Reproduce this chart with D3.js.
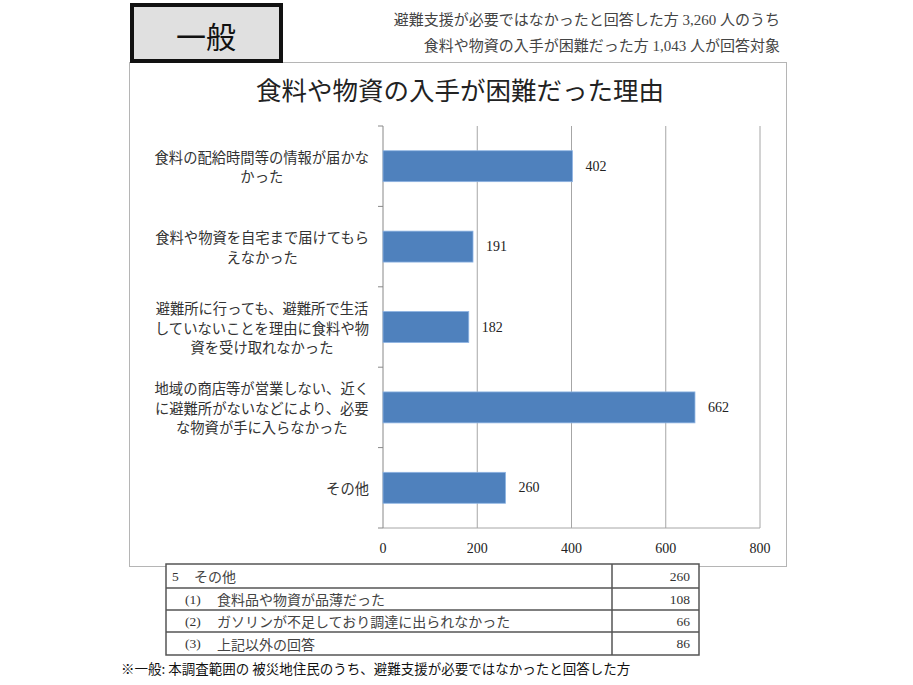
<!DOCTYPE html>
<html>
<head>
<meta charset="utf-8">
<script src="https://cdn.jsdelivr.net/npm/d3@7"></script>
<style>
  body { margin: 0; background: #fff; }
  svg { display: block; }
</style>
</head>
<body>
<div id="chart"></div>
<script>
// 食料や物資の入手が困難だった理由 (一般)
const categories = [
  ["食料の配給時間等の情報が届かな", "かった"],
  ["食料や物資を自宅まで届けてもら", "えなかった"],
  ["避難所に行っても、避難所で生活", "していないことを理由に食料や物", "資を受け取れなかった"],
  ["地域の商店等が営業しない、近く", "に避難所がないなどにより、必要", "な物資が手に入らなかった"],
  ["その他"]
];
const values = [402, 191, 182, 662, 260];
const xTicks = [0, 200, 400, 600, 800];

const tableNums = ["5", "(1)", "(2)", "(3)"];
const tableLabels = ["その他", "食料品や物資が品薄だった", "ガソリンが不足しており調達に出られなかった", "上記以外の回答"];
const tableValues = [260, 108, 66, 86];

const headerLines = [
  "避難支援が必要ではなかったと回答した方 3,260 人のうち",
  "食料や物資の入手が困難だった方 1,043 人が回答対象"
];
const title = "食料や物資の入手が困難だった理由";
const footnote = "※一般:  本調査範囲の 被災地住民のうち、避難支援が必要ではなかったと回答した方";

const width = 913, height = 685;
const jp = "'Noto Sans CJK JP', sans-serif";
const serif = "'Liberation Serif', 'Noto Sans CJK JP', serif";

const svg = d3.select("#chart").append("svg")
  .attr("width", width)
  .attr("height", height);

// chart frame
svg.append("rect")
  .attr("x", 129.5).attr("y", 62.5)
  .attr("width", 657).attr("height", 504)
  .attr("fill", "#fff").attr("stroke", "#b5b5b5").attr("stroke-width", 1);

// label box "一般"
svg.append("rect")
  .attr("x", 132).attr("y", 5)
  .attr("width", 149).attr("height", 56)
  .attr("fill", "#e0e0e0").attr("stroke", "#111").attr("stroke-width", 4);
svg.append("text")
  .attr("x", 206).attr("y", 35)
  .attr("text-anchor", "middle").attr("dominant-baseline", "central")
  .attr("font-family", jp).attr("font-size", 30).attr("fill", "#111")
  .text("一般");

// header notes
svg.selectAll(".hdr").data(headerLines).enter().append("text")
  .attr("class", "hdr")
  .attr("x", 780).attr("y", (d, i) => 20 + i * 26)
  .attr("text-anchor", "end").attr("dominant-baseline", "central")
  .attr("font-family", serif).attr("font-size", 15).attr("fill", "#444")
  .text(d => d);

// title
svg.append("text")
  .attr("x", 460).attr("y", 88)
  .attr("text-anchor", "middle").attr("dominant-baseline", "central")
  .attr("font-family", jp).attr("font-size", 25.5).attr("fill", "#222")
  .text(title);

// scales
const x = d3.scaleLinear().domain([0, 800]).range([383, 760]);
const y = d3.scaleBand().domain(d3.range(categories.length))
  .range([126, 528]).paddingInner(0.615).paddingOuter(0.3075);

// gridlines
svg.selectAll(".grid").data(xTicks.slice(1)).enter().append("line")
  .attr("class", "grid")
  .attr("x1", d => x(d)).attr("x2", d => x(d))
  .attr("y1", 126).attr("y2", 528)
  .attr("stroke", "#a6a6a6").attr("stroke-width", 1);

// bottom line
svg.append("line")
  .attr("x1", x(0)).attr("x2", x(800)).attr("y1", 528).attr("y2", 528)
  .attr("stroke", "#a6a6a6");

// y axis with boundary ticks
const step = y.step();
const edges = d3.range(categories.length + 1).map(i => 126 + i * step);
svg.append("line")
  .attr("x1", x(0)).attr("x2", x(0)).attr("y1", 126).attr("y2", 528)
  .attr("stroke", "#888");
svg.selectAll(".ytick").data(edges).enter().append("line")
  .attr("class", "ytick")
  .attr("x1", x(0) - 5).attr("x2", x(0)).attr("y1", d => d).attr("y2", d => d)
  .attr("stroke", "#888");

// bars
svg.selectAll(".bar").data(values).enter().append("rect")
  .attr("class", "bar")
  .attr("x", x(0))
  .attr("y", (d, i) => y(i))
  .attr("width", d => x(d) - x(0))
  .attr("height", y.bandwidth())
  .attr("fill", "#4f81bd").attr("stroke", "#8eb4e3").attr("stroke-width", 0.8);

// value labels
svg.selectAll(".val").data(values).enter().append("text")
  .attr("class", "val")
  .attr("x", d => x(d) + 13)
  .attr("y", (d, i) => y(i) + y.bandwidth() / 2)
  .attr("dominant-baseline", "central")
  .attr("font-family", serif).attr("font-size", 14).attr("fill", "#222")
  .text(d => d);

// x tick labels
svg.selectAll(".xtick").data(xTicks).enter().append("text")
  .attr("class", "xtick")
  .attr("x", d => x(d)).attr("y", 548)
  .attr("text-anchor", "middle").attr("dominant-baseline", "central")
  .attr("font-family", serif).attr("font-size", 14).attr("fill", "#222")
  .text(d => d);

// category labels: lines centred in a block, block right-aligned
const lineH = 19.5;
categories.forEach((lines, i) => {
  const g = svg.append("g");
  const cy = y(i) + y.bandwidth() / 2;
  lines.forEach((ln, j) => {
    g.append("text")
      .attr("x", 0)
      .attr("y", cy + (j - (lines.length - 1) / 2) * lineH)
      .attr("text-anchor", "middle").attr("dominant-baseline", "central")
      .attr("font-family", jp).attr("font-size", 14.3).attr("fill", "#333")
      .text(ln);
  });
  const bb = g.node().getBBox();
  g.attr("transform", `translate(${369 - (bb.x + bb.width)},0)`);
});

// detail table
const tLeft = 166, tRight = 699, tDiv = 612;
const rowEdges = [564, 588, 610, 632, 655];
const rowMid = i => (rowEdges[i] + rowEdges[i + 1]) / 2;
const table = svg.append("g");
table.append("rect")
  .attr("x", tLeft).attr("y", rowEdges[0])
  .attr("width", tRight - tLeft).attr("height", rowEdges[4] - rowEdges[0])
  .attr("fill", "#fff").attr("stroke", "#555").attr("stroke-width", 1.5);
table.selectAll(".rline").data(rowEdges.slice(1, -1)).enter().append("line")
  .attr("x1", tLeft).attr("x2", tRight).attr("y1", d => d).attr("y2", d => d)
  .attr("stroke", "#555").attr("stroke-width", 1.5);
table.append("line")
  .attr("x1", tDiv).attr("x2", tDiv).attr("y1", rowEdges[0]).attr("y2", rowEdges[4])
  .attr("stroke", "#555").attr("stroke-width", 1.5);
table.selectAll(".tnum").data(tableNums).enter().append("text")
  .attr("x", (d, i) => i === 0 ? 172 : 185)
  .attr("y", (d, i) => rowMid(i))
  .attr("dominant-baseline", "central")
  .attr("font-family", serif).attr("font-size", 13.5).attr("fill", "#333")
  .text(d => d);
table.selectAll(".tlab").data(tableLabels).enter().append("text")
  .attr("x", (d, i) => i === 0 ? 194 : 217)
  .attr("y", (d, i) => rowMid(i))
  .attr("dominant-baseline", "central")
  .attr("font-family", jp).attr("font-size", 14).attr("fill", "#444")
  .text(d => d);
table.selectAll(".tval").data(tableValues).enter().append("text")
  .attr("x", 690)
  .attr("y", (d, i) => rowMid(i))
  .attr("text-anchor", "end").attr("dominant-baseline", "central")
  .attr("font-family", serif).attr("font-size", 13.5).attr("fill", "#333")
  .text(d => d);

// footnote
svg.append("text")
  .attr("x", 121).attr("y", 668)
  .attr("dominant-baseline", "central")
  .attr("font-family", jp).attr("font-size", 13.5).attr("fill", "#111")
  .text(footnote);
</script>
</body>
</html>
